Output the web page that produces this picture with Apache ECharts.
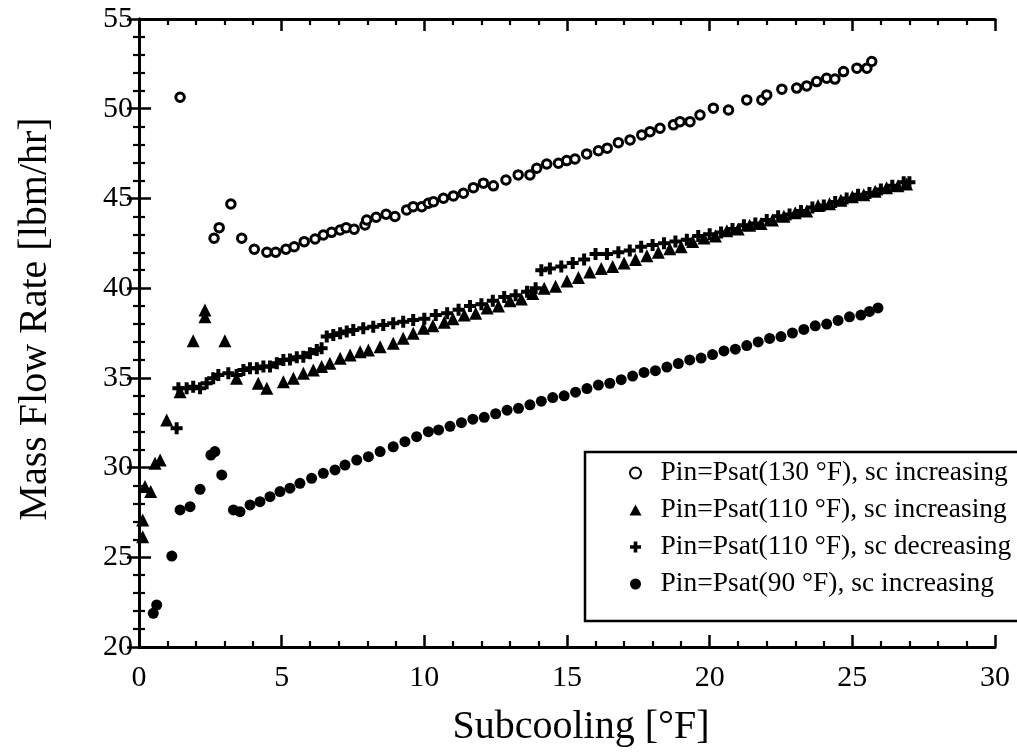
<!DOCTYPE html>
<html>
<head>
<meta charset="utf-8">
<script src="https://cdn.jsdelivr.net/npm/echarts@6/dist/echarts.min.js"></script>
<style>
html,body{margin:0;padding:0;background:#fff;}
#chart{width:1017px;height:752px;}
</style>
</head>
<body>
<div id="chart"></div>
<script>
// ---- Data ----
const seriesNames = [
  'Pin=Psat(130 °F), sc increasing',
  'Pin=Psat(110 °F), sc increasing',
  'Pin=Psat(110 °F), sc decreasing',
  'Pin=Psat(90 °F), sc increasing'
];
const xTicks = [0, 5, 10, 15, 20, 25, 30];
const yTicks = [20, 25, 30, 35, 40, 45, 50, 55];

// 130 °F, sc increasing (open circles)
const x130inc = [1.44,2.63,2.81,3.22,3.60,4.04,4.48,4.79,5.15,5.44,5.79,6.17,6.46,6.75,7.05,7.26,7.54,7.92,7.98,8.31,8.66,8.97,9.38,9.61,9.91,10.14,10.32,10.67,11.02,11.37,11.72,12.07,12.42,12.86,13.29,13.70,13.94,14.29,14.70,14.99,15.28,15.69,16.10,16.41,16.80,17.21,17.62,17.91,18.26,18.73,18.96,19.31,19.66,20.13,20.66,21.30,21.83,22.00,22.53,23.05,23.40,23.75,24.10,24.39,24.69,25.16,25.51,25.68];
const y130inc = [50.64,42.78,43.37,44.69,42.78,42.17,42.0,42.0,42.17,42.31,42.59,42.74,42.96,43.11,43.24,43.37,43.28,43.52,43.80,43.95,44.12,43.99,44.36,44.54,44.54,44.73,44.82,45.01,45.14,45.29,45.60,45.85,45.70,46.03,46.31,46.31,46.68,46.92,46.96,47.11,47.20,47.48,47.66,47.80,48.11,48.26,48.54,48.72,48.91,49.10,49.28,49.28,49.65,50.03,49.93,50.49,50.49,50.77,51.09,51.15,51.27,51.51,51.70,51.65,52.07,52.26,52.26,52.63];

// 110 °F, sc increasing (filled triangles)
const x110inc = [0.13,0.13,0.21,0.41,0.56,0.74,0.97,1.44,1.90,2.31,2.31,3.01,3.42,4.18,4.48,5.06,5.41,5.76,6.11,6.40,6.69,7.05,7.40,7.75,8.04,8.45,8.91,9.26,9.61,9.97,10.3,10.7,11.0,11.4,11.8,12.2,12.6,13.0,13.4,13.8,14.2,14.6,15.0,15.4,15.8,16.2,16.6,17.0,17.4,17.8,18.2,18.6,19.0,19.4,19.8,20.2,20.6,21.0,21.4,21.8,22.2,22.6,23.0,23.4,23.8,24.2,24.6,25.0,25.4,25.8,26.2,26.6,26.9];
const y110inc = [27.08,26.15,28.94,28.66,30.24,30.42,32.65,34.23,37.07,38.78,38.41,37.07,34.98,34.70,34.42,34.79,34.98,35.26,35.44,35.63,35.81,36.09,36.28,36.46,36.55,36.74,36.93,37.21,37.49,37.76,37.9,38.1,38.3,38.5,38.6,38.9,39.0,39.3,39.4,39.7,40.0,40.1,40.4,40.6,40.9,41.1,41.2,41.4,41.6,41.8,42.0,42.2,42.3,42.6,42.8,42.9,43.2,43.3,43.5,43.6,43.8,44.0,44.2,44.3,44.6,44.7,44.9,45.1,45.2,45.4,45.6,45.7,45.8];

// 110 °F, sc decreasing (crosses)
const x110dec = [1.32,1.38,1.67,1.90,2.14,2.37,2.60,2.78,3.13,3.42,3.66,3.89,4.13,4.36,4.59,4.83,5.06,5.29,5.53,5.76,5.99,6.23,6.40,6.58,6.81,7.05,7.28,7.51,7.86,8.21,8.56,8.91,9.26,9.61,10.0,10.4,10.8,11.2,11.6,12.0,12.4,12.8,13.2,13.6,13.9,14.1,14.4,14.8,15.2,15.6,16.0,16.4,16.8,17.2,17.6,18.0,18.4,18.8,19.2,19.6,20.0,20.4,20.8,21.2,21.6,22.0,22.4,22.8,23.2,23.6,24.0,24.4,24.8,25.2,25.6,26.0,26.4,26.8,27.0];
const y110dec = [32.19,34.42,34.42,34.51,34.42,34.70,34.98,35.16,35.26,35.16,35.44,35.53,35.53,35.63,35.63,35.81,36.0,36.03,36.15,36.18,36.37,36.55,36.65,37.30,37.39,37.49,37.58,37.67,37.76,37.85,37.95,38.04,38.13,38.23,38.3,38.5,38.6,38.8,39.0,39.1,39.3,39.5,39.6,39.8,40.0,41.0,41.1,41.2,41.4,41.6,41.9,41.9,42.0,42.1,42.3,42.4,42.5,42.6,42.7,42.9,43.0,43.1,43.3,43.5,43.6,43.8,44.0,44.1,44.3,44.5,44.6,44.8,45.0,45.2,45.3,45.5,45.7,45.9,45.9];

// 90 °F, sc increasing (filled dots)
const x90inc = [0.62,0.50,1.15,1.44,1.79,2.14,2.52,2.66,2.90,3.31,3.54,3.89,4.24,4.59,4.94,5.29,5.64,6.05,6.46,6.87,7.22,7.63,8.04,8.45,8.91,9.32,9.73,10.14,10.5,10.9,11.3,11.7,12.1,12.5,12.9,13.3,13.7,14.1,14.5,14.9,15.3,15.7,16.1,16.5,16.9,17.3,17.7,18.1,18.5,18.9,19.3,19.7,20.1,20.5,20.9,21.3,21.7,22.1,22.5,22.9,23.3,23.7,24.1,24.5,24.9,25.3,25.6,25.9];
const y90inc = [22.34,21.88,25.07,27.64,27.82,28.79,30.70,30.89,29.59,27.64,27.54,27.92,28.10,28.38,28.66,28.85,29.12,29.40,29.68,29.87,30.14,30.42,30.61,30.89,31.16,31.44,31.72,32.0,32.1,32.3,32.5,32.7,32.8,33.0,33.2,33.3,33.5,33.7,33.9,34.0,34.2,34.4,34.6,34.7,34.9,35.1,35.3,35.4,35.6,35.8,36.0,36.1,36.3,36.5,36.6,36.8,37.0,37.2,37.3,37.5,37.7,37.9,38.0,38.2,38.4,38.5,38.7,38.9];

// ---- Chart ----
const pair = (xs, ys) => xs.map((x, i) => [x, ys[i]]);
const FONT = "'Liberation Serif', 'Times New Roman', serif";
const PLUS = 'path://M4,0h4v4h4v4h-4v4h-4v-4h-4v-4h4z';

const axisCommon = (min, max, interval) => ({
  type: 'value', min: min, max: max, interval: interval,
  axisLine: {show: true, lineStyle: {color: '#000', width: 3}},
  axisTick: {show: true, inside: true, length: 12, lineStyle: {color: '#000', width: 2.5}},
  minorTick: {show: true, splitNumber: 5, length: 6, lineStyle: {color: '#000', width: 2.2}},
  splitLine: {show: false},
  minorSplitLine: {show: false}
});

const chart = echarts.init(document.getElementById('chart'), null, {renderer: 'canvas'});
chart.setOption({
  animation: false,
  backgroundColor: '#fff',
  grid: {left: 139, right: 22, top: 19, bottom: 105, containLabel: false},
  xAxis: [
    Object.assign(axisCommon(xTicks[0], xTicks[xTicks.length - 1], xTicks[1] - xTicks[0]), {
      position: 'bottom',
      name: 'Subcooling [°F]', nameLocation: 'middle', nameGap: 60,
      nameTextStyle: {fontFamily: FONT, fontSize: 40, color: '#000', padding: [0, 0, 0, 28]},
      axisLabel: {fontFamily: FONT, fontSize: 30, color: '#000', margin: 16}
    }),
    Object.assign(axisCommon(xTicks[0], xTicks[xTicks.length - 1], xTicks[1] - xTicks[0]), {
      position: 'top', axisLabel: {show: false}
    })
  ],
  yAxis: [
    Object.assign(axisCommon(yTicks[0], yTicks[yTicks.length - 1], yTicks[1] - yTicks[0]), {
      position: 'left',
      name: 'Mass Flow Rate [lbm/hr]', nameLocation: 'middle', nameGap: 84, nameRotate: 90,
      nameTextStyle: {fontFamily: FONT, fontSize: 40, color: '#000', padding: [0, 0, 0, 28]},
      axisLabel: {fontFamily: FONT, fontSize: 30, color: '#000', margin: 6}
    }),
    Object.assign(axisCommon(yTicks[0], yTicks[yTicks.length - 1], yTicks[1] - yTicks[0]), {
      position: 'right', axisLabel: {show: false}
    })
  ],
  legend: {
    orient: 'vertical', left: 585, top: 452,
    itemWidth: 12, itemHeight: 11, itemGap: 7,
    padding: [6, 14, 22, 44],
    backgroundColor: '#fff', borderColor: '#000', borderWidth: 2.5, borderRadius: 0,
    textStyle: {fontFamily: FONT, fontSize: 27.5, color: '#000', lineHeight: 30, padding: [0, 0, 0, 14]},
    data: seriesNames
  },
  series: [
    {name: seriesNames[0], type: 'scatter', data: pair(x130inc, y130inc), symbol: 'circle', symbolSize: 8.5,
     itemStyle: {color: '#fff', borderColor: '#000', borderWidth: 3, opacity: 1}},
    {name: seriesNames[1], type: 'scatter', data: pair(x110inc, y110inc), symbol: 'triangle', symbolSize: 13,
     itemStyle: {color: '#000', opacity: 1}},
    {name: seriesNames[2], type: 'scatter', data: pair(x110dec, y110dec), symbol: PLUS, symbolSize: 12,
     itemStyle: {color: '#000', opacity: 1}},
    {name: seriesNames[3], type: 'scatter', data: pair(x90inc, y90inc), symbol: 'circle', symbolSize: 11,
     itemStyle: {color: '#000', opacity: 1}}
  ]
});
</script>
</body>
</html>
